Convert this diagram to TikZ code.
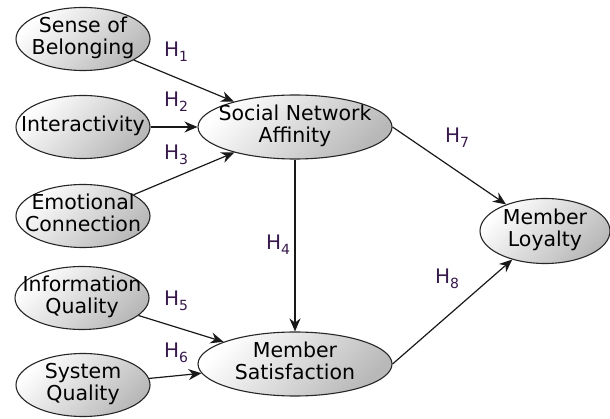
\documentclass[tikz,border=0pt]{standalone}
\usepackage{fontspec}
\setmainfont{DejaVu Sans}
\usetikzlibrary{shapes.geometric,arrows.meta}
\definecolor{hcol}{RGB}{55,25,75}
\newcommand{\ct}[1]{\makebox[0pt]{\begin{tabular}{@{}c@{}}#1\end{tabular}}}
\tikzset{
  cons/.style={ellipse, draw=black!85, line width=1.1pt, inner sep=0pt,
    top color=white, bottom color=black!28, shading angle=45,
    font=\fontsize{20.5}{22}\selectfont},
  small/.style={cons, minimum width=134pt, minimum height=63pt},
  big/.style={cons, minimum width=194pt, minimum height=64pt},
  arr/.style={-{Stealth[length=13pt,width=11pt]}, line width=1.2pt, black!90},
  hlab/.style={text=hcol, font=\fontsize{20}{22}\selectfont, inner sep=0pt}
}
\newcommand{\hyp}[1]{H\raisebox{-5pt}{\fontsize{14}{14}\selectfont #1}}
\begin{document}
\begin{tikzpicture}[x=1pt,y=-1pt]
\useasboundingbox (0,0) rectangle (610,419);
\node[small] (sob) at (83,39) {\ct{Sense of\\Belonging}};
\node[small] (int) at (83,127) {\ct{Interactivity}};
\node[small] (ec) at (83,216) {\ct{Emotional\\Connection}};
\node[small] (iq) at (82,298) {\ct{Information\\Quality}};
\node[small] (sq) at (83,385) {\ct{System\\Quality}};
\node[big] (sna) at (295,127) {\ct{Social Network\\Affinity}};
\node[big] (ms) at (295,364) {\ct{Member\\Satisfaction}};
\node[cons, minimum width=130pt, minimum height=65pt] (ml) at (545,231) {\ct{Member\\Loyalty}};

\draw[arr] (sob) -- (sna);
\draw[arr] (int) -- (sna);
\draw[arr] (ec) -- (sna);
\draw[arr] (sna.south) -- (ms.north);
\draw[arr] (iq) -- (ms);
\draw[arr] (sq) -- (ms);
\draw[arr] (sna.east) -- (ml);
\draw[arr] (ms.east) -- (ml);

\node[hlab] (h1) at (176,52) {\hyp{1}};
\node[hlab] (h2) at (176,102) {\hyp{2}};
\node[hlab] (h3) at (176,155) {\hyp{3}};
\node[hlab] (h4) at (278,245) {\hyp{4}};
\node[hlab] (h5) at (176,301) {\hyp{5}};
\node[hlab] (h6) at (176,353) {\hyp{6}};
\node[hlab] (h7) at (457,138) {\hyp{7}};
\node[hlab] (h8) at (447,279) {\hyp{8}};
\end{tikzpicture}
\end{document}
